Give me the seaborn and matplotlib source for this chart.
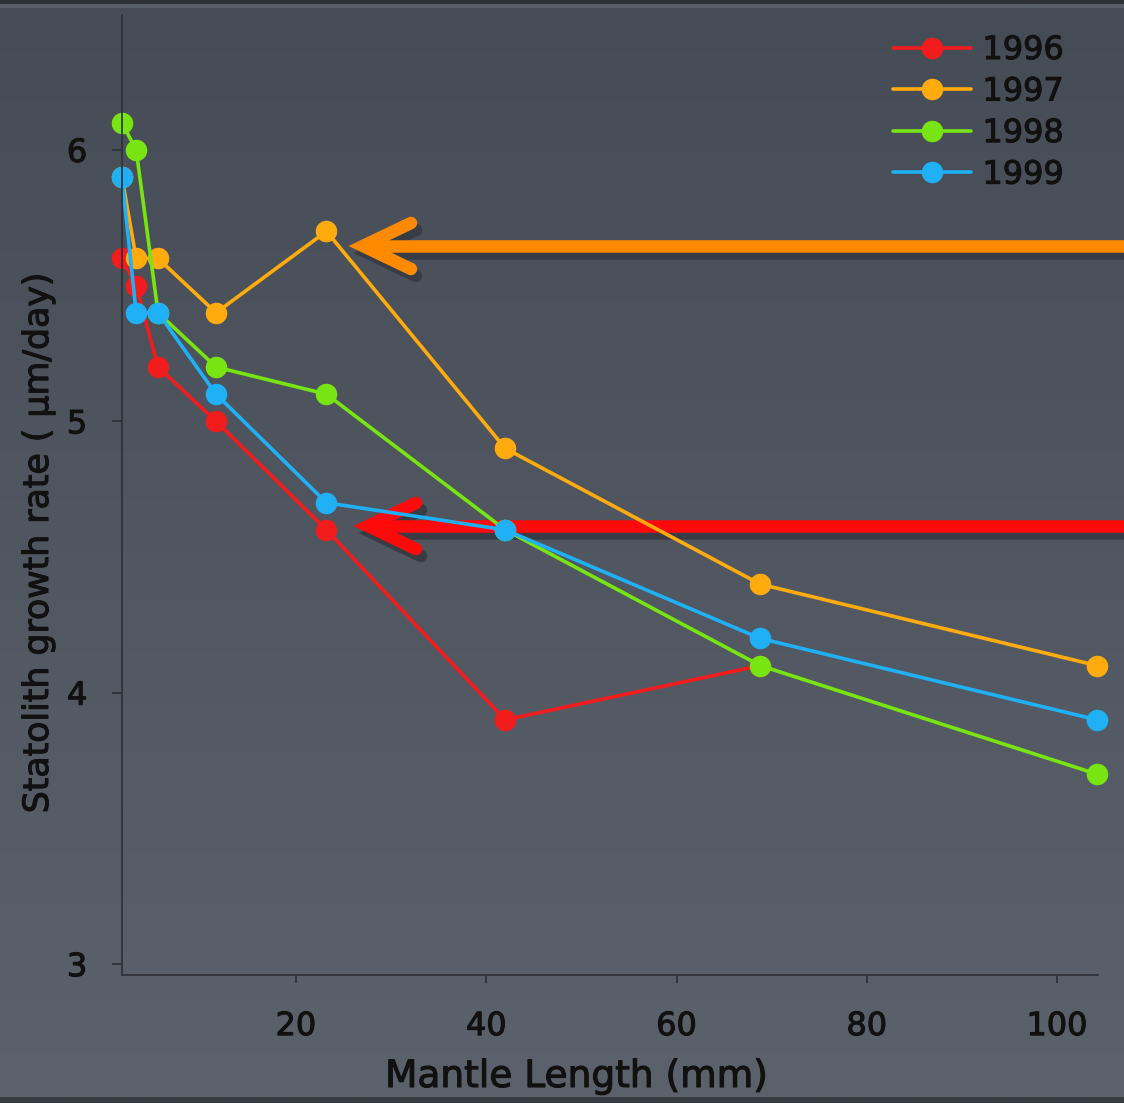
#!/usr/bin/env python3
"""Statolith growth rate vs mantle length, 1996-1999."""

import numpy as np
import pandas as pd
import matplotlib
matplotlib.use("Agg")
import matplotlib.pyplot as plt
import matplotlib.patheffects as pe
from matplotlib.lines import Line2D
import seaborn as sns

# ----------------------------
# Data
# ----------------------------
years = ["1996", "1997", "1998", "1999"]
mantle_1996 = [1.7, 3.2, 5.5, 11.6, 23.2, 42.0, 68.8]
rate_1996 = [5.6, 5.5, 5.2, 5.0, 4.6, 3.9, 4.1]
mantle_all = [1.7, 3.2, 5.5, 11.6, 23.2, 42.0, 68.8, 104.2]
rate_1997 = [5.9, 5.6, 5.6, 5.4, 5.7, 4.9, 4.4, 4.1]
rate_1998 = [6.1, 6.0, 5.4, 5.2, 5.1, 4.6, 4.1, 3.7]
rate_1999 = [5.9, 5.4, 5.4, 5.1, 4.7, 4.6, 4.2, 3.9]

x_ticks = [20, 40, 60, 80, 100]
y_ticks = [3, 4, 5, 6]

colors = {"1996": "#f21c1c", "1997": "#ffab0d", "1998": "#78e512", "1999": "#1fb0f5"}


def main():
    sns.set_style("ticks")
    plt.rcParams["font.family"] = ["DejaVu Sans"]

    frames = [
        pd.DataFrame({"mantle": mantle_1996, "rate": rate_1996, "year": "1996"}),
        pd.DataFrame({"mantle": mantle_all, "rate": rate_1997, "year": "1997"}),
        pd.DataFrame({"mantle": mantle_all, "rate": rate_1998, "year": "1998"}),
        pd.DataFrame({"mantle": mantle_all, "rate": rate_1999, "year": "1999"}),
    ]
    df = pd.concat(frames, ignore_index=True)

    W, H = 1124, 1103
    fig = plt.figure(figsize=(W / 100, H / 100), dpi=100)
    ink = "#111111"
    heavy = [pe.withStroke(linewidth=0.8, foreground=ink)]

    # ----------------------------
    # Background gradient (slide look)
    # ----------------------------
    bg = fig.add_axes([0, 0, 1, 1], zorder=-5)
    top = np.array([70, 76, 86]) / 255
    bot = np.array([92, 98, 108]) / 255
    t = np.linspace(0, 1, H)[:, None]
    grad = top * (1 - t) + bot * t
    grad[0:4] = np.array([45, 50, 57]) / 255
    grad[4:8] = np.array([88, 95, 104]) / 255
    grad[-6:] = np.array([55, 60, 67]) / 255
    img = np.repeat(grad[:, None, :], 4, axis=1)
    bg.imshow(img, aspect="auto", extent=[0, 1, 0, 1], interpolation="bilinear")
    bg.set_axis_off()

    # ----------------------------
    # Main axes
    # ----------------------------
    left, right = 122 / W, 1098 / W
    bottom, topp = 1 - 975 / H, 1 - 15 / H
    ax = fig.add_axes([left, bottom, right - left, topp - bottom])
    ax.set_facecolor("none")

    sns.lineplot(
        data=df, x="mantle", y="rate", hue="year", hue_order=years,
        palette=colors, marker="o", markersize=15.5, markeredgewidth=0,
        linewidth=2.6, sort=False, legend=False, ax=ax, clip_on=False,
    )

    ax.set_xlim(1.71, 104.3)
    ax.set_ylim(2.96, 6.497)
    ax.set_xticks(x_ticks)
    ax.set_yticks(y_ticks)
    ax.set_xticklabels([str(v) for v in x_ticks])
    ax.set_yticklabels([str(v) for v in y_ticks])

    for side in ["top", "right"]:
        ax.spines[side].set_visible(False)
    for side in ["left", "bottom"]:
        ax.spines[side].set_color("#2c2f35")
        ax.spines[side].set_linewidth(1.2)

    ax.tick_params(axis="x", direction="out", length=6, width=1.2, color="#2c2f35",
                   labelsize=23, labelcolor=ink, pad=20)
    ax.tick_params(axis="y", direction="out", length=7, width=1.2, color="#2c2f35",
                   labelsize=23, labelcolor=ink, pad=18)
    for lab in ax.get_xticklabels() + ax.get_yticklabels():
        lab.set_path_effects(heavy)
    ax.set_xlabel("")
    ax.set_ylabel("")

    fig.text(576 / W, 1 - 1077 / H, "Mantle Length (mm)", fontsize=27,
             color=ink, ha="center", va="center", path_effects=heavy)
    fig.text(38 / W, 1 - 543 / H, "Statolith growth rate ( µm/day)", fontsize=25,
             color=ink, ha="center", va="center", rotation=90, path_effects=heavy)

    # ----------------------------
    # Legend
    # ----------------------------
    handles = [
        Line2D([], [], color=colors[y], marker="o", markersize=15.5,
               markeredgewidth=0, linewidth=2.6)
        for y in years
    ]
    leg = fig.legend(
        handles, years, loc="upper left", bbox_to_anchor=(893 / W, 1 - 35 / H),
        frameon=False, fontsize=23, handlelength=2.45, handletextpad=0.35,
        labelspacing=0.33, borderpad=0, borderaxespad=0,
    )
    for txt in leg.get_texts():
        txt.set_color(ink)
        txt.set_path_effects(heavy)

    # ----------------------------
    # Highlight arrows
    # ----------------------------
    def arrow(tip_x, tip_y, color):
        tr = fig.transFigure
        for dx, dy, c, z in [(5, 7, "#383c44", 1.2), (0, 0, color, 1.4)]:
            tx, ty = tip_x + dx, tip_y + dy
            # shaft
            ax.add_line(Line2D([(tx + 8) / W, (W + 20) / W],
                               [1 - ty / H, 1 - ty / H], transform=tr,
                               color=c, linewidth=9, solid_capstyle="butt",
                               clip_on=False, zorder=z))
            # head
            ax.add_line(Line2D([(tx + 48) / W, tx / W, (tx + 48) / W],
                               [1 - (ty - 23) / H, 1 - ty / H, 1 - (ty + 23) / H],
                               transform=tr, color=c, linewidth=9,
                               solid_capstyle="round", solid_joinstyle="miter",
                               clip_on=False, zorder=z))

    arrow(363, 246, "#ff8a00")
    arrow(368, 526, "#ff0a0a")

    fig.savefig("out.png", dpi=100, facecolor=fig.get_facecolor())


if __name__ == "__main__":
    main()
